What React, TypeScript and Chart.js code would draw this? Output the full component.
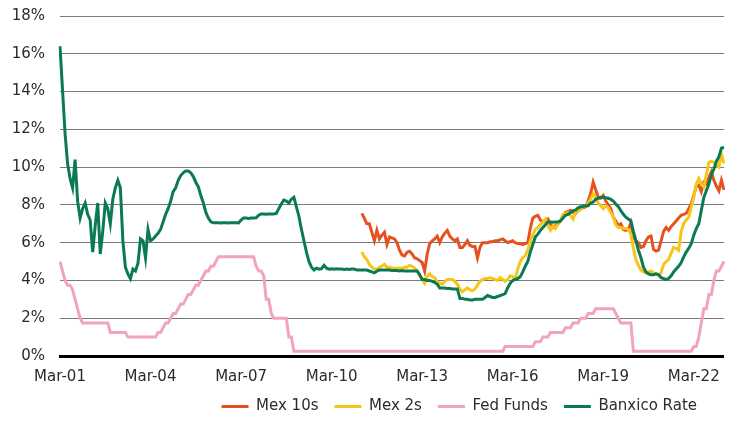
import { useEffect, useRef } from "react";
import { Chart, registerables } from "chart.js";

Chart.register(...registerables);

// Monthly observations, Mar-01 through Mar-23
const MONTH_NAMES = ["Jan", "Feb", "Mar", "Apr", "May", "Jun", "Jul", "Aug", "Sep", "Oct", "Nov", "Dec"];
const START_YEAR = 2001;
const START_MONTH = 2; // March
const N_MONTHS = 265;

const monthLabels: string[] = [];
for (let k = 0; k < N_MONTHS; k++) {
  const m = (START_MONTH + k) % 12;
  const y = START_YEAR + Math.floor((START_MONTH + k) / 12);
  monthLabels.push(`${MONTH_NAMES[m]}-${String(y % 100).padStart(2, "0")}`);
}

const tickLabels = ["Mar-01", "Mar-04", "Mar-07", "Mar-10", "Mar-13", "Mar-16", "Mar-19", "Mar-22"];

// Bond yields start in Mar-11
const MEX_START = 120;

const mex10s = [
  7.55, 7.3, 7.0, 7.0, 6.55, 6.1, 6.65, 6.2, 6.4, 6.55,
  5.9, 6.3, 6.25, 6.2, 6.0, 5.6, 5.35, 5.3, 5.5, 5.55,
  5.4, 5.2, 5.15, 5.05, 4.95, 4.5, 5.4, 5.95, 6.1, 6.2,
  6.35, 6.0, 6.3, 6.5, 6.65, 6.35, 6.2, 6.1, 6.2, 5.75,
  5.75, 5.9, 6.1, 5.85, 5.8, 5.8, 5.2, 5.75, 6.0, 6.0,
  6.0, 6.05, 6.05, 6.1, 6.1, 6.15, 6.2, 6.1, 6.0, 6.05,
  6.1, 6.0, 5.95, 5.95, 5.9, 5.95, 6.0, 6.75, 7.3, 7.4,
  7.45, 7.2, 7.1, 7.15, 7.25, 7.0, 6.8, 6.9, 7.0, 7.15,
  7.35, 7.6, 7.65, 7.7, 7.6, 7.55, 7.7, 7.8, 7.85, 7.9,
  8.2, 8.6, 9.2, 8.8, 8.4, 8.35, 8.5, 8.2, 8.0, 7.8,
  7.35, 7.15, 6.9, 7.0, 6.7, 6.65, 6.7, 7.05, 6.3, 6.1,
  6.0, 5.75, 5.8, 6.1, 6.3, 6.35, 5.65, 5.55, 5.6, 6.1,
  6.6, 6.8, 6.65, 6.85, 7.0, 7.15, 7.3, 7.45, 7.5, 7.55,
  7.8, 8.05, 8.5, 9.0, 9.05, 8.7, 9.2, 9.1, 9.45, 9.75,
  9.3, 9.0, 8.75, 9.3, 8.8,
];

const mex2s = [
  5.5, 5.25, 5.1, 4.85, 4.7, 4.6, 4.6, 4.7, 4.75, 4.85,
  4.7, 4.7, 4.65, 4.65, 4.65, 4.65, 4.65, 4.7, 4.7, 4.8,
  4.75, 4.65, 4.5, 4.3, 4.05, 3.85, 4.2, 4.35, 4.2, 4.15,
  3.9, 3.85, 3.8, 3.95, 4.05, 4.05, 4.05, 3.95, 3.8, 3.55,
  3.4, 3.5, 3.6, 3.5, 3.45, 3.55, 3.75, 3.95, 4.05, 4.1,
  4.1, 4.15, 4.1, 4.05, 4.0, 4.15, 4.05, 3.95, 4.05, 4.25,
  4.2, 4.1, 4.6, 5.0, 5.2, 5.3, 5.6, 6.1, 6.4, 6.7,
  6.8, 6.95, 7.1, 7.25, 6.9, 6.65, 6.9, 6.75, 7.0, 7.2,
  7.5, 7.55, 7.6, 7.45, 7.25, 7.6, 7.65, 7.75, 7.9, 7.95,
  8.1, 8.3, 8.6, 8.4, 8.1, 7.95, 7.8, 7.95, 7.85, 7.6,
  7.4, 6.95, 6.8, 6.8, 6.75, 6.75, 6.7, 6.45, 5.7, 5.1,
  4.8, 4.55, 4.45, 4.4, 4.45, 4.5, 4.4, 4.35, 4.3, 4.4,
  4.85, 5.0, 5.1, 5.45, 5.75, 5.7, 5.6, 6.6, 7.0, 7.2,
  7.35, 7.9, 8.4, 9.1, 9.4, 9.1, 8.95, 9.6, 10.25, 10.3,
  10.25, 10.1, 10.0, 10.7, 10.2,
];

const fedFunds = [
  5.0, 4.5, 4.0, 3.75, 3.75, 3.5, 3.0, 2.5, 2.0, 1.75,
  1.75, 1.75, 1.75, 1.75, 1.75, 1.75, 1.75, 1.75, 1.75, 1.75,
  1.25, 1.25, 1.25, 1.25, 1.25, 1.25, 1.25,
  1.0, 1.0, 1.0, 1.0, 1.0, 1.0, 1.0, 1.0, 1.0, 1.0, 1.0, 1.0,
  1.25, 1.25, 1.5, 1.75, 1.75, 2.0, 2.25, 2.25, 2.5, 2.75, 2.75,
  3.0, 3.25, 3.25, 3.5, 3.75, 3.75, 4.0, 4.25, 4.5, 4.5,
  4.75, 4.75, 5.0,
  5.25, 5.25, 5.25, 5.25, 5.25, 5.25, 5.25, 5.25, 5.25, 5.25, 5.25, 5.25, 5.25, 5.25, 5.25,
  4.75, 4.5, 4.5, 4.25,
  3.0, 3.0, 2.25, 2.0,
  2.0, 2.0, 2.0, 2.0, 2.0,
  1.0, 1.0,
  0.25, 0.25, 0.25, 0.25, 0.25, 0.25, 0.25, 0.25, 0.25, 0.25, 0.25, 0.25,
  0.25, 0.25, 0.25, 0.25, 0.25, 0.25, 0.25, 0.25, 0.25, 0.25, 0.25, 0.25,
  0.25, 0.25, 0.25, 0.25, 0.25, 0.25, 0.25, 0.25, 0.25, 0.25, 0.25, 0.25,
  0.25, 0.25, 0.25, 0.25, 0.25, 0.25, 0.25, 0.25, 0.25, 0.25, 0.25, 0.25,
  0.25, 0.25, 0.25, 0.25, 0.25, 0.25, 0.25, 0.25, 0.25, 0.25, 0.25, 0.25,
  0.25, 0.25, 0.25, 0.25, 0.25, 0.25, 0.25, 0.25, 0.25, 0.25, 0.25, 0.25,
  0.25, 0.25, 0.25, 0.25, 0.25, 0.25, 0.25, 0.25, 0.25, 0.25, 0.25, 0.25,
  0.5, 0.5, 0.5, 0.5, 0.5, 0.5, 0.5, 0.5, 0.5, 0.5, 0.5, 0.5,
  0.75, 0.75, 0.75,
  1.0, 1.0, 1.0,
  1.25, 1.25, 1.25, 1.25, 1.25, 1.25,
  1.5, 1.5, 1.5,
  1.75, 1.75, 1.75,
  2.0, 2.0, 2.0,
  2.25, 2.25, 2.25,
  2.5, 2.5, 2.5, 2.5, 2.5, 2.5, 2.5, 2.5,
  2.25, 2.0, 1.75, 1.75, 1.75, 1.75, 1.75,
  0.25, 0.25, 0.25, 0.25, 0.25, 0.25, 0.25, 0.25, 0.25, 0.25, 0.25, 0.25,
  0.25, 0.25, 0.25, 0.25, 0.25, 0.25, 0.25, 0.25, 0.25, 0.25, 0.25, 0.25,
  0.5, 0.5, 1.0, 1.75, 2.5, 2.5, 3.25, 3.25, 4.0, 4.5, 4.5, 4.75, 5.0,
];

const banxicoRate = [
  16.4, 14.1, 11.8, 10.2, 9.4, 8.9, 10.4, 8.2, 7.3, 7.8,
  8.1, 7.5, 7.2, 5.5, 6.9, 8.1, 5.4, 6.6, 8.1, 7.8,
  7.0, 8.3, 8.9, 9.3, 8.9, 6.1, 4.7, 4.35, 4.1, 4.6,
  4.5, 4.9, 6.2, 6.1, 5.2, 6.7, 6.1, 6.2, 6.35, 6.5,
  6.7, 7.1, 7.5, 7.8, 8.2, 8.7, 8.9, 9.3, 9.55, 9.7,
  9.8, 9.8, 9.7, 9.5, 9.2, 8.95, 8.5, 8.1, 7.6, 7.3,
  7.1, 7.05, 7.05, 7.05, 7.04, 7.05, 7.05, 7.04, 7.05, 7.05,
  7.06, 7.05, 7.2, 7.3, 7.3, 7.28, 7.3, 7.3, 7.32, 7.45,
  7.52, 7.52, 7.5, 7.52, 7.52, 7.52, 7.55, 7.8, 8.05, 8.25,
  8.2, 8.1, 8.3, 8.4, 7.9, 7.4, 6.7, 6.1, 5.5, 5.0,
  4.7, 4.55, 4.65, 4.6, 4.62, 4.8, 4.65, 4.6, 4.62, 4.6,
  4.62, 4.6, 4.6, 4.58, 4.6, 4.58, 4.6, 4.6, 4.55, 4.55,
  4.55, 4.55, 4.55, 4.5, 4.45, 4.4, 4.5, 4.55, 4.55, 4.55,
  4.55, 4.55, 4.52, 4.52, 4.52, 4.5, 4.52, 4.5, 4.5, 4.5,
  4.5, 4.5, 4.5, 4.3, 4.05, 4.05, 4.0, 4.0, 3.95, 3.9,
  3.8, 3.6, 3.6, 3.6, 3.58, 3.58, 3.55, 3.55, 3.55, 3.05,
  3.05, 3.0, 3.0, 2.97, 2.97, 3.0, 3.0, 3.0, 3.0, 3.1,
  3.2, 3.15, 3.1, 3.1, 3.15, 3.2, 3.25, 3.3, 3.6, 3.85,
  4.0, 4.05, 4.1, 4.2, 4.45, 4.75, 5.0, 5.5, 5.9, 6.3,
  6.45, 6.65, 6.8, 6.95, 7.1, 7.1, 7.08, 7.1, 7.1, 7.15,
  7.3, 7.45, 7.5, 7.6, 7.7, 7.72, 7.85, 7.9, 7.92, 7.95,
  7.95, 8.1, 8.15, 8.3, 8.35, 8.4, 8.4, 8.38, 8.35, 8.3,
  8.2, 8.05, 7.9, 7.7, 7.5, 7.35, 7.25, 7.15, 6.6, 6.1,
  5.6, 5.2, 4.7, 4.45, 4.35, 4.3, 4.3, 4.35, 4.3, 4.15,
  4.1, 4.05, 4.1, 4.25, 4.45, 4.6, 4.75, 4.95, 5.25, 5.5,
  5.7, 5.95, 6.4, 6.75, 7.0, 7.7, 8.4, 8.75, 9.1, 9.6,
  9.9, 10.3, 10.55, 11.0, 11.05,
];

const padToStart = (values: number[], start: number) =>
  (new Array(start).fill(null) as (number | null)[]).concat(values);

const FONT = "'DejaVu Sans', sans-serif";
const TEXT = "#2b2b2b";

// Moves the right-aligned legend row inwards from the canvas edge
const legendInset = {
  id: "legendInset",
  afterLayout(chart: Chart) {
    const lg: any = (chart as any).legend;
    if (lg) {
      lg.left -= 12;
      lg.right -= 12;
    }
  },
};

export default function App() {
  const canvasRef = useRef<HTMLCanvasElement | null>(null);

  useEffect(() => {
    if (!canvasRef.current) return;
    const series = [
      { label: "Mex 10s", data: padToStart(mex10s, MEX_START), color: "#E5521F", order: 3 },
      { label: "Mex 2s", data: padToStart(mex2s, MEX_START), color: "#F5C518", order: 2 },
      { label: "Fed Funds", data: fedFunds, color: "#F2A3BE", order: 1 },
      { label: "Banxico Rate", data: banxicoRate, color: "#0A7A52", order: 0 },
    ];

    const chart = new Chart(canvasRef.current, {
      type: "line",
      data: {
        labels: monthLabels,
        datasets: series.map((s) => ({
          label: s.label,
          data: s.data,
          borderColor: s.color,
          backgroundColor: s.color,
          borderWidth: 3,
          pointRadius: 0,
          pointHoverRadius: 0,
          tension: 0,
          fill: false,
          order: s.order,
        })),
      },
      options: {
        animation: false,
        responsive: true,
        maintainAspectRatio: false,
        devicePixelRatio: 1,
        layout: { padding: { top: 8, right: 7, left: 0, bottom: 0 } },
        plugins: {
          tooltip: { enabled: false },
          legend: {
            position: "bottom",
            align: "end",
            labels: {
              usePointStyle: true,
              pointStyle: "line",
              pointStyleWidth: 27,
              padding: 16,
              color: TEXT,
              font: { family: FONT, size: 15 },
              sort: (a: any, b: any) => a.datasetIndex - b.datasetIndex,
            },
          },
        },
        scales: {
          x: {
            type: "category",
            offset: false,
            grid: { display: false, drawTicks: false },
            border: { display: true, color: "#000000", width: 3 },
            ticks: {
              autoSkip: false,
              maxRotation: 0,
              minRotation: 0,
              padding: 12,
              color: TEXT,
              font: { family: FONT, size: 15 },
              callback(this: any, value: any) {
                const lbl = this.getLabelForValue(value);
                return tickLabels.includes(lbl) ? lbl : null;
              },
            },
            afterFit(scale: any) {
              scale.height = 27;
            },
          },
          y: {
            min: 0,
            max: 18,
            border: { display: false },
            grid: {
              drawTicks: false,
              lineWidth: 1,
              color: (ctx: any) => (ctx.tick && ctx.tick.value === 0 ? "rgba(0,0,0,0)" : "#7a7a7a"),
            },
            ticks: {
              stepSize: 2,
              padding: 15,
              color: TEXT,
              font: { family: FONT, size: 15 },
              callback: (v: any) => `${v}%`,
            },
            afterFit(scale: any) {
              scale.width = 52;
              scale.paddingTop = 0;
              scale.paddingBottom = 0;
            },
          },
        },
      },
      plugins: [legendInset],
    });

    return () => chart.destroy();
  }, []);

  return (
    <div style={{ height: 412, overflow: "hidden" }}>
      <div style={{ position: "relative", width: 724, height: 416 }}>
        <canvas ref={canvasRef} />
      </div>
    </div>
  );
}
